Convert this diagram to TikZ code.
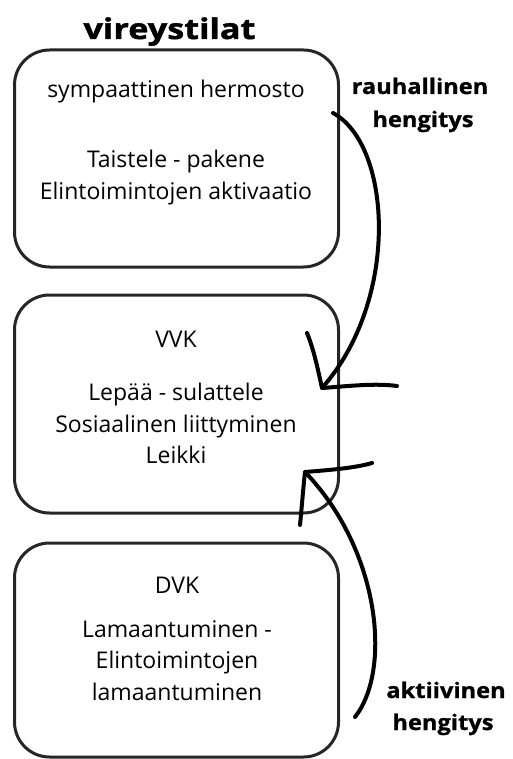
\documentclass[tikz,border=0pt]{standalone}
\usepackage{fontspec}
\setmainfont{Open Sans}
\newfontfamily\titlefont[FakeStretch=1.2, FakeBold=1.5]{Open Sans}
\newfontfamily\breathfont[FakeStretch=1.1, FakeBold=1]{Open Sans}
\begin{document}
\begin{tikzpicture}[x=1pt, y=-1pt,
	statebox/.style={draw=black!85, line width=3pt, rounded corners=35pt, minimum width=324pt, inner sep=0pt},
	line/.style={anchor=base, font=\fontsize{23}{27}\selectfont},
	breath/.style={anchor=base, font=\breathfont\fontsize{21.5}{25}\selectfont\bfseries},
	stroke/.style={line width=4pt, line cap=round, line join=round}]

	\useasboundingbox (0,0) rectangle (512,759);

	\node[anchor=base, font=\titlefont\fontsize{28.5}{32}\selectfont\bfseries] (title) at (169.5,39) {vireystilat};

	\node[statebox, minimum height=217pt] (sns) at (176.5,158.5) {};
	\node[statebox, minimum height=218pt] (vvk) at (176.5,404) {};
	\node[statebox, minimum height=214pt] (dvk) at (176.5,650) {};

	\node[line] (snsHead) at (176,98) {sympaattinen hermosto};
	\node[line] (snsA) at (176,168) {Taistele - pakene};
	\node[line] (snsB) at (176,200) {Elintoimintojen aktivaatio};

	\node[line] (vvkHead) at (176,347) {VVK};
	\node[line] (vvkA) at (176,400) {Lepää - sulattele};
	\node[line] (vvkB) at (176,432) {Sosiaalinen liittyminen};
	\node[line] (vvkC) at (176,463) {Leikki};

	\node[line] (dvkHead) at (177,593) {DVK};
	\node[line] (dvkA) at (177,637) {Lamaantuminen -};
	\node[line] (dvkB) at (177,668) {Elintoimintojen};
	\node[line] (dvkC) at (177,700) {lamaantuminen};

	\node[breath] (calmA) at (420,94) {rauhallinen};
	\node[breath] (calmB) at (423,127) {hengitys};
	\node[breath] (activeA) at (446,698) {aktiivinen};
	\node[breath] (activeB) at (443,730) {hengitys};

	\coordinate (calmStart) at (333,113);
	\coordinate (calmTip) at (322,388);
	\coordinate (calmBarbL) at (307,333);
	\coordinate (calmBarbR) at (397,386);

	\coordinate (activeStart) at (355,717);
	\coordinate (activeTip) at (305,472);
	\coordinate (activeBarbL) at (300,525);
	\coordinate (activeBarbR) at (372,463);

	\draw[stroke] (calmStart) .. controls (392,145) and (400,300) .. (calmTip);
	\draw[stroke] (calmBarbL) .. controls (314,350) and (318,370) .. (calmTip) .. controls (350,386) and (375,383) .. (calmBarbR);

	\draw[stroke] (activeStart) .. controls (392,670) and (380,550) .. (activeTip);
	\draw[stroke] (activeBarbL) .. controls (302,505) and (303,490) .. (activeTip) .. controls (330,470) and (355,468) .. (activeBarbR);

\end{tikzpicture}
\end{document}
